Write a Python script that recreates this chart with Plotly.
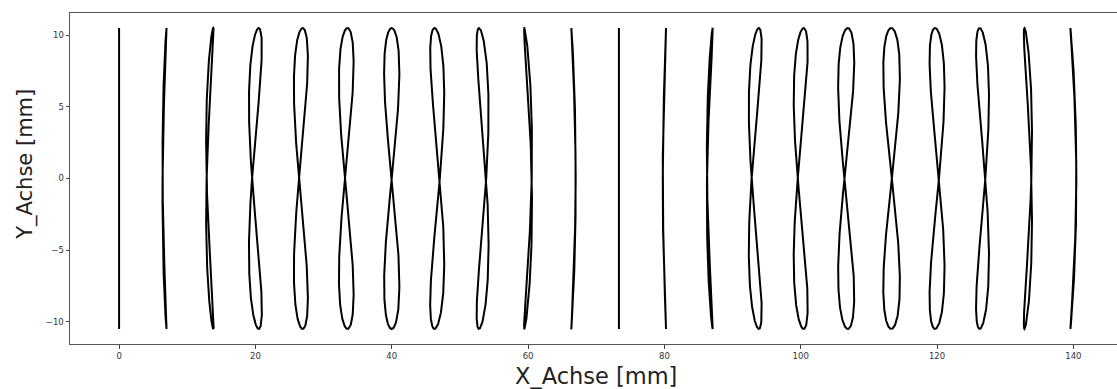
import numpy as np
import plotly.graph_objects as go

# Curve centres along X (mm)
centers = [0.0, 6.67, 13.33, 20.0, 26.67, 33.33, 40.0, 46.67, 53.33, 60.0, 66.67,
           73.33, 80.0, 86.67, 93.33, 100.0, 106.67, 113.33, 120.0, 126.67, 133.33, 140.0]
# Half horizontal amplitude of each figure (mm)
amplitudes = [0.0, 0.30, 0.56, 0.95, 1.03, 1.08, 1.12, 1.03, 0.88, 0.58, 0.32,
              0.0, 0.24, 0.44, 0.95, 1.03, 1.18, 1.22, 1.10, 0.95, 0.60, 0.44]
# Phase of each figure (degrees)
phases = [0, -76, -61, -31, -15, -10, 0, 22, 37, 68, 84,
          0, -85, -71, -34, -25, -12, 2, 15, 26, 57, 85]
half_height = 10.5  # mm

x_ticks = [0, 20, 40, 60, 80, 100, 120, 140]
y_ticks = [-10, -5, 0, 5, 10]

t = np.linspace(0, 2 * np.pi, 400)

fig = go.Figure()
for xc, a, ph in zip(centers, amplitudes, phases):
    xs = xc + a * np.sin(2 * t + np.deg2rad(ph))
    ys = half_height * np.sin(t)
    fig.add_trace(go.Scatter(x=xs, y=ys, mode="lines",
                             line=dict(color="black", width=2),
                             showlegend=False, hoverinfo="skip"))

axis_font = dict(family="DejaVu Sans", size=8.5, color="#333333")
fig.update_xaxes(range=[-7.2, 146.4], tickvals=x_ticks, ticks="outside", ticklen=3.5,
                 tickwidth=0.8, tickcolor="#444444", showline=True, linecolor="#555555",
                 linewidth=1, mirror=True, showgrid=False, zeroline=False,
                 tickfont=axis_font)
fig.update_yaxes(range=[-11.55, 11.55], tickvals=y_ticks, ticks="outside", ticklen=3.5,
                 tickwidth=0.8, tickcolor="#444444", showline=True, linecolor="#555555",
                 linewidth=1, mirror=False, showgrid=False, zeroline=False,
                 tickfont=axis_font)

fig.update_layout(
    width=1117, height=389,
    margin=dict(l=70, r=0, t=13, b=45),
    paper_bgcolor="white", plot_bgcolor="white",
    annotations=[
        dict(text="X_Achse [mm]", xref="paper", yref="paper", x=0.502, y=-0.098,
             xanchor="center", yanchor="middle", showarrow=False,
             font=dict(family="DejaVu Sans", size=22.5, color="#222222")),
        dict(text="Y_Achse [mm]", xref="paper", yref="paper", x=-0.0425, y=0.543,
             xanchor="center", yanchor="middle", showarrow=False, textangle=-90,
             font=dict(family="DejaVu Sans", size=21, color="#222222")),
    ],
)

fig.write_html("out.html")
